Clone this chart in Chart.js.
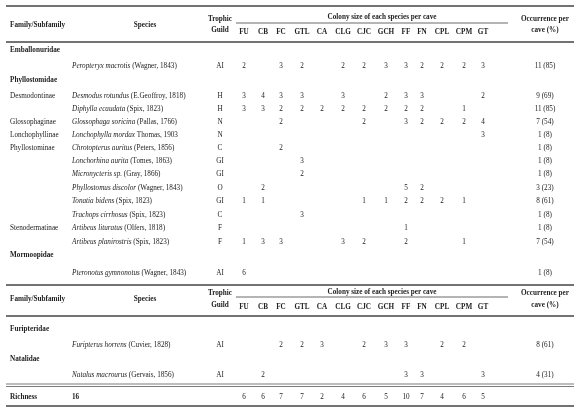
<!DOCTYPE html><html><head><meta charset="utf-8">
<script src="https://cdn.jsdelivr.net/npm/chart.js@4"></script>
<style>html,body{margin:0;padding:0;background:#fff}#w{width:580px;height:408px}</style></head>
<body><div id="w"><canvas id="c"></canvas></div>
<script>
const caves=["FU","CB","FC","GTL","CA","CLG","CJC","GCH","FF","FN","CPL","CPM","GT"];
// row kinds: F=family, S=species
const rowKind=["F","S","F","S","S","S","S","S","S","S","S","S","S","S","S","F","S","|","F","S","F","S"];
const families=["Emballonuridae","","Phyllostomidae","","","","","","","","","","","","","Mormoopidae","","","Furipteridae","","Natalidae",""];
const subfamilies=["","","","Desmodontinae","","Glossophaginae","Lonchophyllinae","Phyllostominae","","","","","","Stenodermatinae","","","","","","","",""];
const species=["","Peropteryx macrotis","","Desmodus rotundus","Diphylla ecaudata","Glossophaga soricina","Lonchophylla mordax","Chrotopterus auritus","Lonchorhina aurita","Micronycteris sp.","Phyllostomus discolor","Tonatia bidens","Trachops cirrhosus","Artibeus lituratus","Artibeus planirostris","","Pteronotus gymnonotus","","","Furipterus horrens","","Natalus macrourus"];
const authors=["","(Wagner, 1843)","","(E.Geoffroy, 1818)","(Spix, 1823)","(Pallas, 1766)","Thomas, 1903","(Peters, 1856)","(Tomes, 1863)","(Gray, 1866)","(Wagner, 1843)","(Spix, 1823)","(Spix, 1823)","(Olfers, 1818)","(Spix, 1823)","","(Wagner, 1843)","","","(Cuvier, 1828)","","(Gervais, 1856)"];
const guilds=["","AI","","H","H","N","N","C","GI","GI","O","GI","C","F","F","","AI","","","AI","","AI"];
const counts=[
[],[2,null,3,2,null,2,2,3,3,2,2,2,3],[],
[3,4,3,3,null,3,null,2,3,3,null,null,2],
[3,3,2,2,2,2,2,2,2,2,null,1,null],
[null,null,2,null,null,null,2,null,3,2,2,2,4],
[null,null,null,null,null,null,null,null,null,null,null,null,3],
[null,null,2],
[null,null,null,3],
[null,null,null,2],
[null,2,null,null,null,null,null,null,5,2],
[1,1,null,null,null,null,1,1,2,2,2,1],
[null,null,null,3],
[null,null,null,null,null,null,null,null,1],
[1,3,3,null,null,3,2,null,2,null,null,1],
[],[6],[],[],
[null,null,2,2,3,null,2,3,3,null,2,2],[],
[null,2,null,null,null,null,null,null,3,3,null,null,3]];
const occurrence=["","11 (85)","","9 (69)","11 (85)","7 (54)","1 (8)","1 (8)","1 (8)","1 (8)","3 (23)","8 (61)","1 (8)","1 (8)","7 (54)","","1 (8)","","","8 (61)","","4 (31)"];
const richness=[6,6,7,7,2,4,6,5,10,7,4,6,5];
const richnessTotal="16";

const rowY=[50,66,80,96,109,122,135,148,161,174,188,201,215,228,242,255,273,0,329,345,359,375];
const colX=[244,263,281,302,322,343,364,386,406,422,442,464,483];
const pts=[];
counts.forEach((r,i)=>r.forEach((v,j)=>{if(v!=null)pts.push({x:colX[j],y:rowY[i],v:String(v)});}));
richness.forEach((v,j)=>pts.push({x:colX[j],y:397,v:String(v)}));

const tablePlugin={id:'tbl',afterDraw(ch){
 const c=ch.ctx,X=ch.scales.x,Y=ch.scales.y;
 const px=v=>X.getPixelForValue(v),py=v=>Y.getPixelForValue(v);
 c.save();c.fillStyle='#222';c.strokeStyle='#444';c.textBaseline='middle';
 const F=(w,s)=>(s||'')+' '+w+' 7.2px "Liberation Serif"';
 const T=(t,x,y,al,f)=>{c.font=f||F('normal');c.textAlign=al||'left';c.fillText(t,px(x),py(y));};
 const L=(x1,x2,y,w)=>{c.lineWidth=w||0.8;c.beginPath();c.moveTo(px(x1),py(y));c.lineTo(px(x2),py(y));c.stroke();};
 L(6,574,6,1.4);L(6,574,42,1.4);L(6,574,285,1.4);L(6,574,316,1.4);L(6,574,384,0.7);L(6,574,386.5,0.7);L(6,574,406,1.4);
 [[25,19,30,17,23,32],[299,293,305,292,297,307]].forEach(h=>{
  T('Family/Subfamily',10,h[0],'left',F('bold'));
  T('Species',145,h[0],'center',F('bold'));
  T('Trophic',220,h[1],'center',F('bold'));T('Guild',220,h[2],'center',F('bold'));
  T('Colony size of each species per cave',382,h[3],'center',F('bold'));
  L(236,508,h[4],0.8);
  caves.forEach((k,j)=>T(k,colX[j],h[5],'center',F('bold')));
  T('Occurrence per',545,h[1],'center',F('bold'));T('cave (%)',545,h[2],'center',F('bold'));
 });
 rowKind.forEach((k,i)=>{
  if(k==='|')return;const y=rowY[i];
  if(families[i])T(families[i],10,y,'left',F('bold'));
  if(subfamilies[i])T(subfamilies[i],10,y);
  if(species[i]){c.font=F('normal','italic');c.textAlign='left';const sx=px(72);c.fillText(species[i],sx,py(y));
   const w=c.measureText(species[i]+' ').width;c.font=F('normal');c.fillText(authors[i],sx+w,py(y));}
  if(guilds[i])T(guilds[i],220,y,'center');
  if(occurrence[i])T(occurrence[i],545,y,'center');
 });
 T('Richness',10,397,'left',F('bold'));T(richnessTotal,72,397,'left',F('bold'));
 ch.data.datasets[0].data.forEach(p=>T(p.v,p.x,p.y,'center'));
 c.restore();}};

new Chart(document.getElementById('c'),{type:'scatter',
 data:{datasets:[{data:pts,pointRadius:0,showLine:false}]},
 options:{responsive:true,maintainAspectRatio:false,animation:false,events:[],
  layout:{padding:0},plugins:{legend:{display:false},tooltip:{enabled:false}},
  scales:{x:{type:'linear',min:0,max:580,display:false},y:{type:'linear',min:0,max:408,reverse:true,display:false}}},
 plugins:[tablePlugin]});
</script></body></html>
